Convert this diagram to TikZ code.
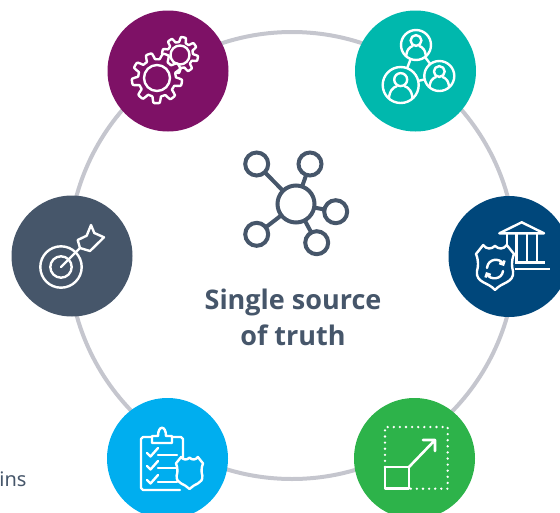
\documentclass[tikz,border=0pt]{standalone}
\usepackage{fontspec}
\setmainfont{Noto Sans}
\newfontfamily\titlefont{Open Sans}
\usetikzlibrary{arrows.meta}
\definecolor{slate}{HTML}{46566A}
\definecolor{ringgray}{HTML}{C5C6CE}
\definecolor{cpurple}{HTML}{7E1166}
\definecolor{cteal}{HTML}{00B8AD}
\definecolor{cnavy}{HTML}{00477B}
\definecolor{cgreen}{HTML}{2DB34A}
\definecolor{cblue}{HTML}{00AEEF}
\tikzset{
  disc/.style={circle,minimum size=121pt,inner sep=0pt,outer sep=0pt,fill=#1},
  hub/.style={circle,draw=slate,line width=4pt,fill=white,inner sep=0pt,outer sep=0pt,minimum size=#1},
  link/.style={draw=slate,line width=4pt},
  icon/.style={draw=white,line width=2.4pt,line join=round,line cap=round},
  person/.style={circle,draw=white,line width=2.4pt,inner sep=0pt,outer sep=0pt,minimum size=#1},
  caption/.style={text=slate,inner sep=0pt,outer sep=0pt}
}
% gear: centre x, centre y, mid radius, amplitude, teeth
\newcommand{\gearicon}[6][]{%
  \draw[icon,#1,shift={(#2,#3)}] plot[domain=0:360,samples=#6*16+1,variable=\t]
    (\t+11:{#4+#5*max(-1,min(1,2.2*cos(#6*\t)))}) -- cycle;}
% shield: centre x, top y, half width, height
\newcommand{\shieldicon}[5][]{%
  \begin{scope}[shift={(#2,#3)},x=#4pt,y=-#5pt]
  \draw[icon,#1] (0,0.02) .. controls (-.2,.1) and (-.45,.1) .. (-.62,0) -- (-1,.2)
    .. controls (-.85,.36) and (-.88,.48) .. (-.95,.58)
    .. controls (-1.02,.85) and (-.35,.82) .. (0,1)
    .. controls (.35,.82) and (1.02,.85) .. (.95,.58)
    .. controls (.88,.48) and (.85,.36) .. (1,.2) -- (.62,0)
    .. controls (.45,.1) and (.2,.1) .. (0,0.02) -- cycle;
  \end{scope}}
% person inside a circle: centre x, centre y, radius
\newcommand{\personicon}[3]{%
  \begin{scope}
  \clip (#1,#2) circle (#3);
  \draw[icon] (#1,#2-#3*.30) circle ({#3*.36});
  \draw[icon] (#1-#3*.66,#2+#3*1.05) .. controls (#1-#3*.70,#2+#3*.30) and (#1-#3*.40,#2+#3*.12) .. (#1-#3*.22,#2+#3*.07)
     (#1+#3*.66,#2+#3*1.05) .. controls (#1+#3*.70,#2+#3*.30) and (#1+#3*.40,#2+#3*.12) .. (#1+#3*.22,#2+#3*.07);
  \end{scope}}
\begin{document}
\begin{tikzpicture}[x=1pt,y=-1pt]
\useasboundingbox (0,0) rectangle (560,512);
\clip (0,0) rectangle (560,512);
% ring
\node[circle,draw=ringgray,line width=4pt,minimum size=447pt,inner sep=0pt] (ring) at (292,255.5) {};
% discs
\node[disc=cpurple] (gears) at (168,71) {};
\node[disc=cteal] (people) at (415.5,71) {};
\node[disc=cnavy] (bank) at (509,256.5) {};
\node[disc=cgreen] (scale) at (414.5,458.5) {};
\node[disc=cblue] (check) at (167.5,458.5) {};
\node[disc=slate] (target) at (72,256) {};
% centre icon
\node[hub=37pt] (h0) at (296,204) {};
\node[hub=23pt] (h1) at (256.7,164) {};
\node[hub=23pt] (h2) at (310,164) {};
\node[hub=23pt] (h3) at (335.7,211.7) {};
\node[hub=23pt] (h4) at (316.7,242.7) {};
\node[hub=23pt] (h5) at (256.7,234.3) {};
\foreach \n in {h1,h2,h3,h4,h5} \draw[link] (h0) -- (\n);
% captions
\node[caption,align=center,font={\titlefont\fontsize{27}{36}\selectfont\bfseries}] (title) at (293,317) {Single source\\of truth};
\node[caption,anchor=base east,font={\fontsize{20}{24}\selectfont}] (cut) at (26.5,486) {ins};
% gears icon
\gearicon{180}{55}{15.5}{2.5}{8}
\draw[icon] (180,55) circle (9.5);
\gearicon[fill=cpurple]{157}{78}{22}{3.2}{9}
\draw[icon] (157,78) circle (13);
% people icon
\node[person=30pt] (p1) at (416,45) {};
\node[person=36pt] (p2) at (400.7,85) {};
\node[person=30pt] (p3) at (439.3,76) {};
\draw[icon,line cap=butt] (p1) -- (p2) (p1) -- (p3) (p2) -- (p3);
\personicon{416}{45}{15}
\personicon{400.7}{85}{18}
\personicon{439.3}{76}{15}
% bank and shield icon
\draw[icon] (499.3,233.3) -- (521.7,222.3) -- (544,233.3) -- cycle;
\draw[icon,line cap=butt] (507,234) -- (507,247) (516.5,234) -- (516.5,262) (527,234) -- (527,262) (537,234) -- (537,262);
\draw[icon,line cap=butt] (515,262.5) -- (545,262.5) (515,269) -- (550,269);
\shieldicon{495}{245}{19}{45}
\draw[icon,-{Straight Barb[length=3pt,width=6pt]}] (487,268) .. controls (488,258) and (500,258) .. (504,266);
\draw[icon,-{Straight Barb[length=3pt,width=6pt]}] (503,271) .. controls (502,280) and (490,280) .. (486,272);
% scale icon
\draw[white,line width=2.6pt,line cap=round,dash pattern=on 0pt off 6.1pt] (385,467) -- (385,427) -- (447.7,427) -- (447.7,488.7) -- (409,488.7);
\draw[icon,line cap=butt,line width=2.6pt] (385,467) rectangle (409,488.7);
\draw[icon,line width=2.6pt] (409,467) -- (435,440) (423,440) -- (435,440) -- (435,451);
% checklist icon
\draw[icon] (152,437) -- (143,437) -- (141,439) -- (141,488) -- (143,490) -- (180,490) (183,459) -- (183,439) -- (181,437) -- (172,437);
\draw[icon] (152,443) -- (152,436) -- (158,436) .. controls (158,425) and (166,425) .. (166,436) -- (172,436) -- (172,443) -- cycle;
\foreach \y in {452,465,479}{
  \draw[icon] (147,\y+1) -- (150.5,\y+4.5) -- (158,\y-4);
  \draw[icon] (158,\y+3) -- (177,\y+3);
}
\shieldicon[fill=cblue]{189.5}{457}{13.5}{32}
% target icon
\draw[icon] (61,267) circle (20.7);
\draw[icon] (61,267) circle (10.7);
\draw[icon] (61,267) -- (80,248);
\draw[icon] (77.7,240) -- (86.7,235.7) -- (91,225) -- (94.3,233) -- (104,237.3) -- (90,251) -- (80,248) -- cycle;
\end{tikzpicture}
\end{document}
